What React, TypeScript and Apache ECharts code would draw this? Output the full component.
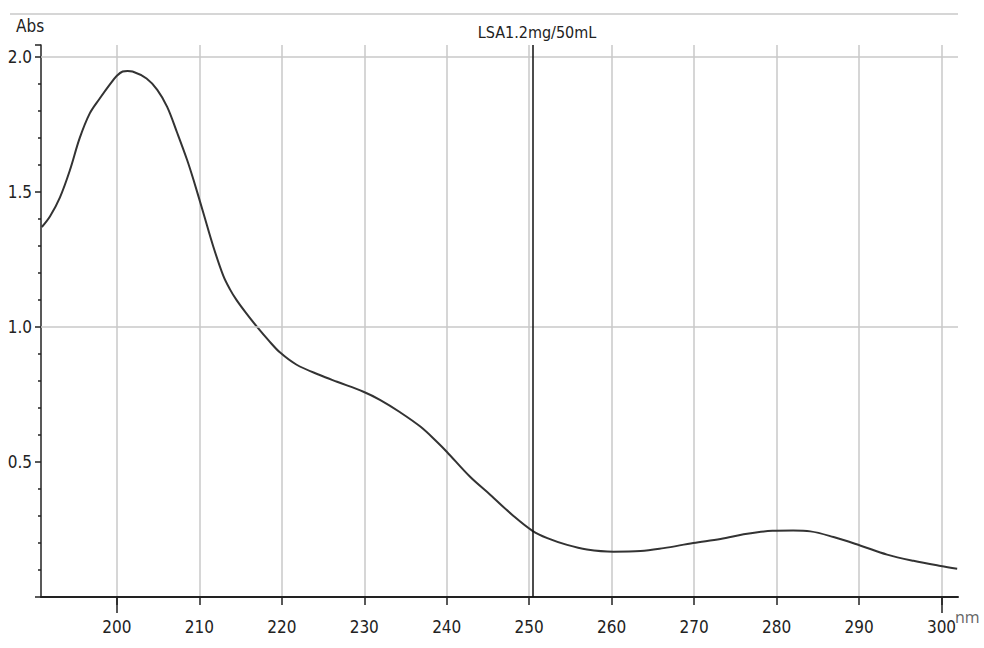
import React, { useEffect, useRef } from "react";
import * as echarts from "echarts";

const wavelengths = [
  190.9, 191.9, 193.1, 194.3, 195.5, 196.7, 197.9, 199.2, 200.0, 200.7, 201.3, 201.9,
  203.6, 204.9, 206.1, 207.3, 208.5, 209.3, 210.5, 211.7, 212.9, 213.7, 214.5, 215.7,
  217.0, 218.4, 219.8, 221.8, 224.6, 226.7, 229.9, 231.9, 234.3, 236.8, 238.8, 240.0,
  242.8, 245.3, 248.1, 250.4, 252.2, 254.6, 257.0, 260.2, 263.5, 266.3, 269.9, 273.2,
  276.0, 277.7, 279.5, 282.0, 284.1, 286.9, 290.2, 293.4, 296.6, 299.9, 301.9,
];
const absorbance = [
  1.37, 1.41, 1.48, 1.58, 1.7, 1.79, 1.845, 1.9, 1.93, 1.946, 1.948, 1.946,
  1.92, 1.878, 1.815, 1.72, 1.62, 1.544, 1.421, 1.297, 1.19, 1.14, 1.1, 1.05,
  1.0, 0.95, 0.905, 0.86, 0.822, 0.797, 0.76, 0.73, 0.685, 0.631, 0.575, 0.538,
  0.446, 0.378, 0.3, 0.245, 0.218, 0.193, 0.176, 0.168, 0.17, 0.181, 0.2, 0.215,
  0.232, 0.24, 0.245, 0.246, 0.243, 0.222, 0.19, 0.157, 0.134, 0.115, 0.105,
];
const xTickValues = [200, 210, 220, 230, 240, 250, 260, 270, 280, 290, 300];
const xLongTickValues = [200, 300];
const yGridValues = [1.0, 2.0];
const cursorWavelength = 250.4;
const titleText = "LSA1.2mg/50mL";
const yAxisTitle = "Abs";
const xUnit = "nm";

const NARROW = "'DejaVu Sans Condensed', 'Liberation Sans Narrow', sans-serif";

export default function App() {
  const ref = useRef<HTMLDivElement>(null);
  useEffect(() => {
    document.body.style.margin = "0";
    const chart = echarts.init(ref.current!, null, { renderer: "svg" });
    const xMin = 190.8;
    const xMax = 302;
    chart.setOption({
      animation: false,
      backgroundColor: "#ffffff",
      title: {
        text: titleText,
        left: 532,
        top: 19,
        textAlign: "center",
        textStyle: { fontFamily: NARROW, fontSize: 16, fontWeight: "normal", color: "#222" },
      },
      grid: { left: 41, right: 26, top: 45, bottom: 51 },
      graphic: [
        {
          type: "line",
          shape: { x1: 10, y1: 14, x2: 958, y2: 14 },
          style: { stroke: "#c8c8c8", lineWidth: 1.5 },
          silent: true,
        },
        {
          type: "text",
          left: 16,
          top: 17,
          style: { text: yAxisTitle, font: `17px ${NARROW}`, fill: "#222" },
          silent: true,
        },
        {
          type: "text",
          left: 955,
          top: 609,
          style: { text: xUnit, font: "16px 'Open Sans', sans-serif", fill: "#666" },
          silent: true,
        },
      ],
      xAxis: [
        {
          type: "value",
          min: xMin,
          max: xMax,
          axisLine: { show: true, lineStyle: { color: "#222", width: 2 } },
          axisTick: { show: true, customValues: xTickValues, length: 8, lineStyle: { color: "#222", width: 1.5 } },
          axisLabel: {
            customValues: xTickValues,
            margin: 21,
            fontFamily: NARROW,
            fontSize: 17,
            color: "#222",
          },
          splitLine: { show: true, lineStyle: { color: "#c8c8c8", width: 1.5 } },
        },
        {
          type: "value",
          min: xMin,
          max: xMax,
          position: "bottom",
          axisLine: { show: false },
          axisTick: { show: true, customValues: xLongTickValues, length: 16, lineStyle: { color: "#222", width: 1.5 } },
          axisLabel: { show: false },
          splitLine: { show: false },
        },
      ],
      yAxis: {
        type: "value",
        min: 0,
        max: 2.044,
        interval: 0.5,
        axisLine: { show: true, lineStyle: { color: "#222", width: 1.5 } },
        axisTick: { show: true, length: 6, lineStyle: { color: "#222", width: 1.5 } },
        minorTick: { show: true, splitNumber: 5, length: 3, lineStyle: { color: "#222", width: 1.5 } },
        axisLabel: {
          margin: 9,
          fontFamily: NARROW,
          fontSize: 17,
          color: "#222",
          formatter: (v: number) => (v === 0 ? "" : v.toFixed(1)),
        },
        splitLine: { show: false },
      },
      series: [
        {
          type: "line",
          data: wavelengths.map((w, i) => [w, absorbance[i]]),
          showSymbol: false,
          smooth: 0.35,
          lineStyle: { color: "#333", width: 2 },
          silent: true,
          markLine: {
            silent: true,
            symbol: "none",
            label: { show: false },
            data: [
              ...yGridValues.map((v) => ({ yAxis: v, lineStyle: { color: "#c8c8c8", width: 1.5, type: "solid" } })),
              { xAxis: cursorWavelength, lineStyle: { color: "#111", width: 1.5, type: "solid" } },
            ],
          },
        },
      ],
    });
    return () => chart.dispose();
  }, []);
  return <div ref={ref} style={{ width: 984, height: 648 }} />;
}
